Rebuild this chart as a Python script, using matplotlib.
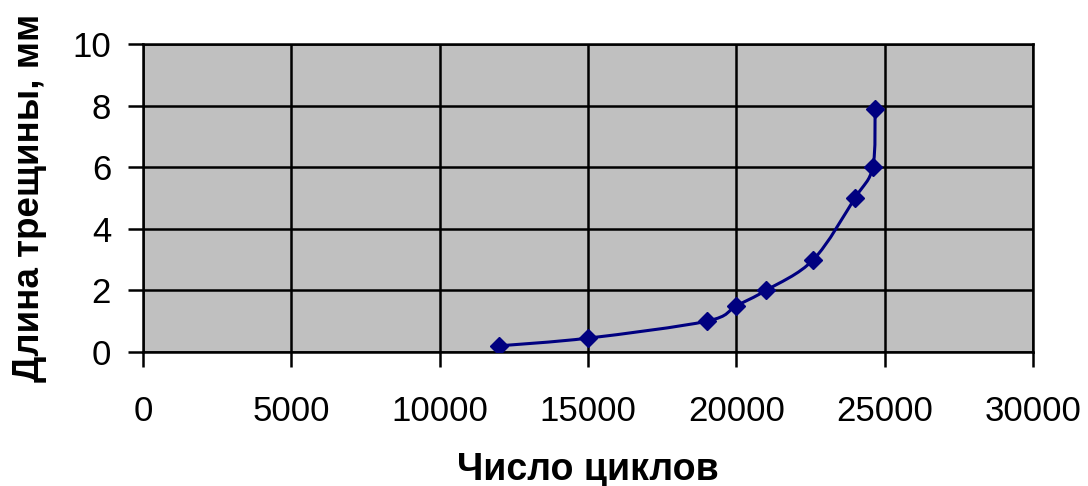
import numpy as np
import matplotlib
matplotlib.use("Agg")
from matplotlib import pyplot as plt
from matplotlib.path import Path
from matplotlib.patches import PathPatch

cycles = [12000, 15000, 19000, 20000, 21000, 22600, 24000, 24600, 24680]
crack_mm = [0.2, 0.45, 1.0, 1.5, 2.0, 3.0, 5.0, 6.0, 7.9]

x_ticks = [0, 5000, 10000, 15000, 20000, 25000, 30000]
y_ticks = [0, 2, 4, 6, 8, 10]

plt.rcParams['font.family'] = ['Liberation Sans', 'DejaVu Sans']


def smooth_path(xs, ys):
    # Catmull-Rom style bezier through the points (like a spreadsheet "smoothed line")
    p = np.column_stack([xs, ys]).astype(float)
    ext = np.vstack([p[0], p, p[-1]])
    verts = [p[0]]
    codes = [Path.MOVETO]
    for i in range(len(p) - 1):
        a, b, c, d = ext[i], ext[i + 1], ext[i + 2], ext[i + 3]
        verts += [b + (c - a) / 6, c - (d - b) / 6, c]
        codes += [Path.CURVE4] * 3
    return Path(verts, codes)


fig = plt.figure(figsize=(10.88, 4.86), dpi=100)
ax = fig.add_axes([0.1314, 0.2757, 0.818, 0.6338])
ax.set_facecolor('#c0c0c0')

ax.add_patch(PathPatch(smooth_path(cycles, crack_mm), fill=False,
                       edgecolor='#000080', lw=2.2, zorder=3))
ax.plot(cycles, crack_mm, linestyle='none', marker='D', markersize=9.5,
        color='#000080', zorder=4)

ax.set_xlim(0, 30000)
ax.set_ylim(0, 10)
ax.set_xticks(x_ticks)
ax.set_yticks(y_ticks)
ax.grid(True, color='black', lw=1.8)
ax.set_axisbelow(True)
for s in ax.spines.values():
    s.set_color('black')
    s.set_linewidth(1.8)

ax.tick_params(axis='both', direction='out', length=11, width=1.8,
               labelsize=25, colors='black')
ax.tick_params(axis='x', pad=20)
ax.tick_params(axis='y', pad=12)

ax.set_xlabel('Число циклов', fontsize=27, fontweight='bold', va='center')
ax.xaxis.set_label_coords(0.5, -0.383)
ax.set_ylabel('Длина трещины, мм', fontsize=26.5, fontweight='bold', va='center')
ax.yaxis.set_label_coords(-0.127, 0.5)

plt.savefig('out.png', dpi=100)
